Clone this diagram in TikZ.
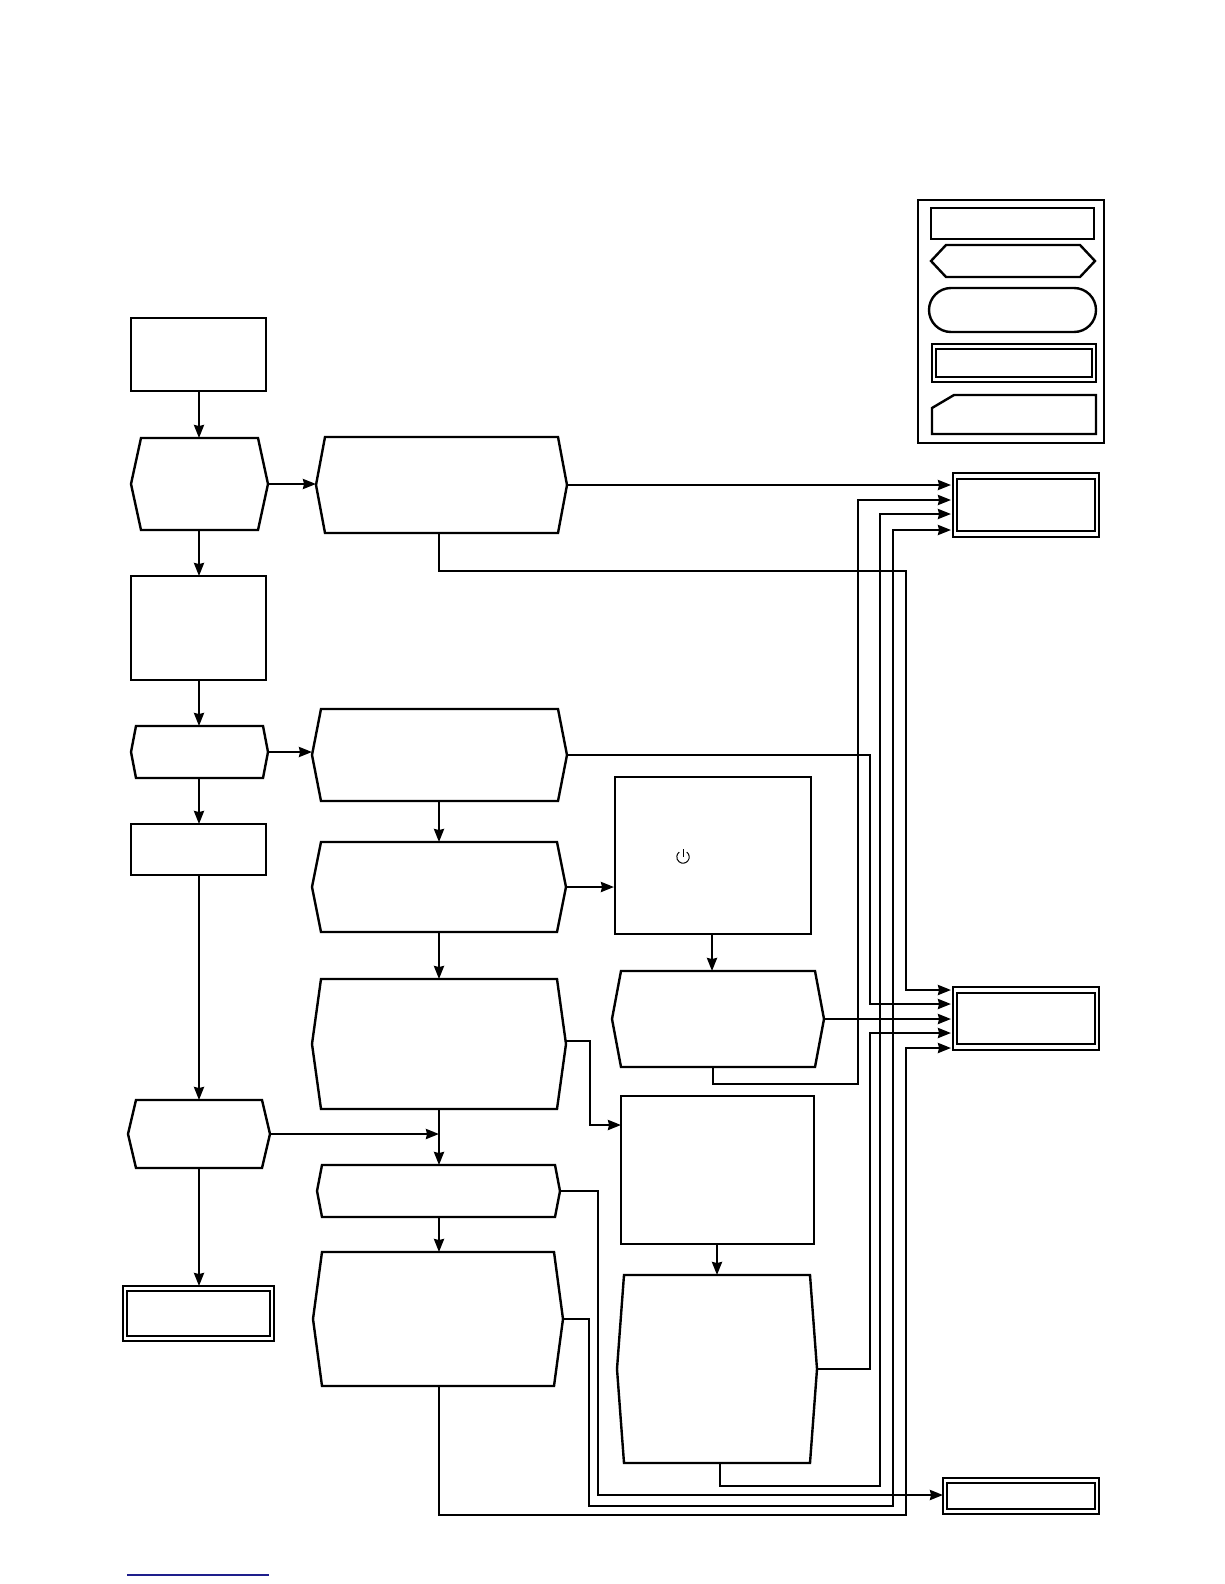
\documentclass[tikz,border=0pt]{standalone}
\usetikzlibrary{arrows.meta,calc}
\definecolor{linkblue}{RGB}{30,30,140}
\tikzset{
  frame/.style={inner sep=0pt,outer sep=0pt,line width=2.4pt,draw=black,line join=miter},
  ghost/.style={inner sep=0pt,outer sep=0pt},
  outline/.style={line width=2.4pt,draw=black,line join=miter},
  thinout/.style={line width=2.2pt,draw=black},
  link/.style={line width=2.4pt,draw=black,line join=miter,-{Stealth[inset=1pt,length=13pt,width=10pt]}},
}
% rectangle node: name, left, right, top, bottom
\newcommand\rectnode[5]{%
  \pgfmathsetmacro\boxw{#3-(#2)}\pgfmathsetmacro\boxh{#5-(#4)}%
  \node[frame,anchor=north west,minimum width=\boxw pt,minimum height=\boxh pt] (#1) at (#2,#4) {};}
% double-framed node: name, outer l r t b, gap x, gap y
\newcommand\dblnode[7]{%
  \pgfmathsetmacro\boxw{#3-(#2)}\pgfmathsetmacro\boxh{#5-(#4)}%
  \node[frame,anchor=north west,minimum width=\boxw pt,minimum height=\boxh pt] (#1) at (#2,#4) {};
  \draw[thinout] ($(#1.north west)+(#6,#7)$) rectangle ($(#1.south east)+(-#6,-#7)$);}
% hexagon node: name, left, right, top, bottom, inset
\newcommand\hexnode[6]{%
  \pgfmathsetmacro\boxw{#3-(#2)}\pgfmathsetmacro\boxh{#5-(#4)}%
  \node[ghost,anchor=north west,minimum width=\boxw pt,minimum height=\boxh pt] (#1) at (#2,#4) {};
  \draw[outline] (#1.west) -- ($(#1.north west)+(#6,0)$) -- ($(#1.north east)+(-#6,0)$)
    -- (#1.east) -- ($(#1.south east)+(-#6,0)$) -- ($(#1.south west)+(#6,0)$) -- cycle;}
\begin{document}
\begin{tikzpicture}[x=1pt,y=-1pt]
\useasboundingbox (0,0) rectangle (1224,1584);
\fill[white] (0,0) rectangle (1224,1584);

% legend
\rectnode{legend}{918}{1104}{200}{443}
\rectnode{legA}{931}{1094}{208}{239}
\hexnode{legB}{931}{1095}{245}{277}{15}
\node[frame,anchor=north west,rounded corners=22pt,minimum width=167pt,minimum height=44pt] (legC) at (929,288) {};
\dblnode{legD}{932}{1096}{344}{382}{4}{5}
\node[ghost,anchor=north west,minimum width=164pt,minimum height=39pt] (legE) at (932,395) {};
\draw[outline] (legE.south west) -- ($(legE.north west)+(0,13)$) -- ($(legE.north west)+(22,0)$) -- (legE.north east) -- (legE.south east) -- cycle;

% left column
\rectnode{start}{131}{266}{318}{391}
\hexnode{qa}{131}{268}{438}{530}{10}
\rectnode{stepb}{131}{266}{576}{680}
\hexnode{qb}{131}{268}{726}{778}{5}
\rectnode{stepc}{131}{266}{824}{875}
\hexnode{qc}{128}{270}{1100}{1168}{8}
\dblnode{endl}{123}{274}{1286}{1341}{4}{5}

% middle column
\hexnode{ma}{316}{567}{437}{533}{9}
\hexnode{mb}{312}{567}{709}{801}{9}
\hexnode{mc}{312}{566}{842}{932}{9}
\hexnode{md}{312}{566}{979}{1109}{9}
\hexnode{me}{317}{560}{1165}{1217}{5}
\hexnode{mf}{313}{563}{1252}{1386}{9}

% right column
\rectnode{ra}{615}{811}{777}{934}
\hexnode{rb}{612}{824}{971}{1067}{9}
\rectnode{rc}{621}{814}{1096}{1244}
\hexnode{rd}{617}{817}{1275}{1463}{7}

% power symbol
\coordinate (pwr) at (683,857);
\draw[line width=1pt] ($(pwr)+(-52:6.2)$) arc[start angle=52,end angle=-232,radius=6.2pt];
\draw[line width=1pt] (683,849) -- (683,857);

% end nodes
\dblnode{tva}{953}{1099}{473}{537}{4}{6}
\dblnode{tvb}{953}{1099}{987}{1050}{4}{6}
\dblnode{tvc}{943}{1099}{1478}{1514}{4}{5}

% connector end points
\coordinate (colL) at (199,0);
\coordinate (colM) at (439,0);
\coordinate (a1) at (951,485);
\coordinate (a2) at (951,500);
\coordinate (a3) at (951,514);
\coordinate (a4) at (951,530);
\coordinate (b1) at (951,990);
\coordinate (b2) at (951,1004);
\coordinate (b3) at (951,1019);
\coordinate (b4) at (951,1033);
\coordinate (b5) at (951,1048);
\coordinate (c1) at (943,1495);

% left column links
\draw[link] (colL |- start.south) -- (colL |- qa.north);
\draw[link] (colL |- qa.south) -- (colL |- stepb.north);
\draw[link] (colL |- stepb.south) -- (colL |- qb.north);
\draw[link] (colL |- qb.south) -- (colL |- stepc.north);
\draw[link] (colL |- stepc.south) -- (colL |- qc.north);
\draw[link] (colL |- qc.south) -- (colL |- endl.north);
\draw[link] (qa.east) -- (qa.east -| ma.west);
\draw[link] (qb.east) -- (qb.east -| mb.west);
\draw[link] (qc.east) -- (colM |- qc.east);

% middle column links
\draw[link] (colM |- mb.south) -- (colM |- mc.north);
\draw[link] (colM |- mc.south) -- (colM |- md.north);
\draw[link] (colM |- md.south) -- (colM |- me.north);
\draw[link] (colM |- me.south) -- (colM |- mf.north);
\draw[link] (ma.east) -- (ma.east -| a1);
\draw[link,shorten >=1pt] (mc.east) -- (mc.east -| ra.west);
\draw[link] ($(md.east)+(0,-3)$) -| (590,1125) -- (621,1125);

% right column links
\draw[link] (712,934) -- (712,971);
\draw[link] (717,1244) -- (717,1275);

% long routes to the end nodes
\draw[link] (colM |- ma.south) |- (906,571) |- (b1);
\draw[link] (mb.east) -| (870,1004) -- (b2);
\draw[link] (rb.east) -- (rb.east -| b3);
\draw[link] (rd.east) -| (870,1033) -- (b4);
\draw[link] (colM |- mf.south) |- (906,1515) |- (b5);
\draw[link] (713,1067) |- (858,1084) |- (a2);
\draw[link] (720,1463) |- (880,1486) |- (a3);
\draw[link] (mf.east) -| (589,1506) -| (893,529) |- (a4);
\draw[link] (me.east) -| (598,1495) -- (c1);

% footer rule
\draw[linkblue,line width=1.3pt] (127,1575) -- (269,1575);
\end{tikzpicture}
\end{document}
